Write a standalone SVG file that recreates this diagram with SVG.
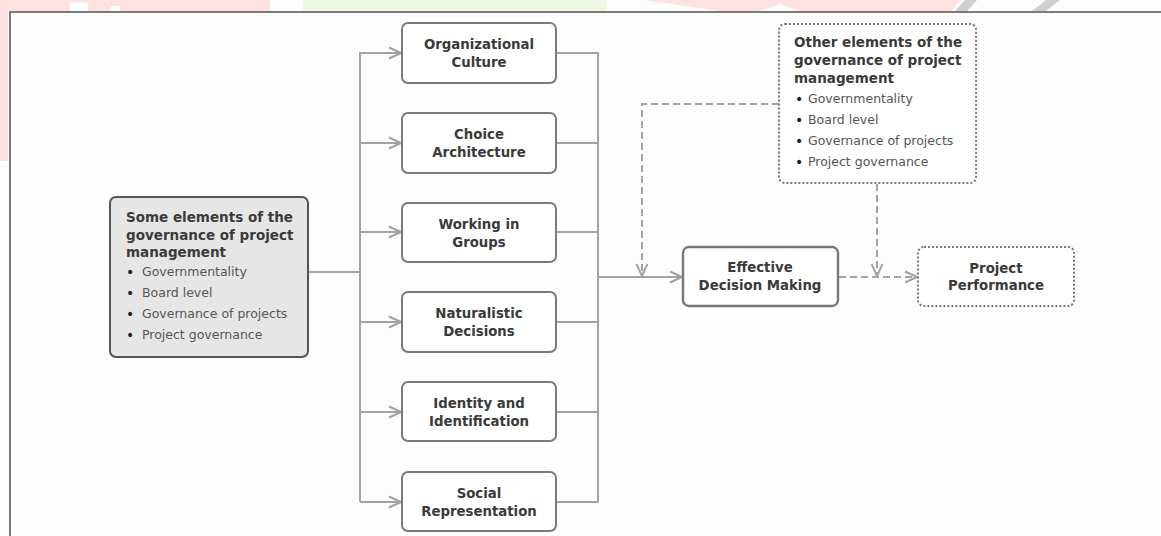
<svg xmlns="http://www.w3.org/2000/svg" width="1161" height="536" viewBox="0 0 1161 536">
<style>
.box{fill:#fff;stroke:#7a7a7a;stroke-width:2}
.main{fill:#e6e6e6;stroke:#555;stroke-width:2}
.dot{fill:#fff;stroke:#777;stroke-width:2;stroke-dasharray:2 2}
.edm{fill:#fff;stroke:#777;stroke-width:2.4}
.t{font-family:"DejaVu Sans","Liberation Sans",sans-serif;font-weight:bold;font-size:13.3px;fill:#3a3a3a;text-anchor:middle}
.h{font-family:"DejaVu Sans","Liberation Sans",sans-serif;font-weight:bold;font-size:13.5px;fill:#3a3a3a}
.b{font-family:"DejaVu Sans","Liberation Sans",sans-serif;font-size:12.5px;fill:#555}
.bu{font-family:"DejaVu Sans","Liberation Sans",sans-serif;font-size:14px;fill:#222}
.c{fill:none;stroke:#a3a3a3;stroke-width:2}
.d{fill:none;stroke:#a3a3a3;stroke-width:2;stroke-dasharray:7 4}
</style>
<defs>
<marker id="ah" viewBox="0 0 14 14" refX="13" refY="7" markerWidth="14" markerHeight="14" markerUnits="userSpaceOnUse" orient="auto">
<path d="M1 1.5 L13 7 L1 12.5" fill="none" stroke="#a3a3a3" stroke-width="2"/>
</marker>
</defs>
<rect width="1161" height="536" fill="#fdfdfd"/>
<g id="watermark">
<rect x="0" y="0" width="270" height="11" fill="#fde2df"/>
<rect x="70" y="2" width="18" height="9" fill="#fff"/>
<rect x="110" y="6" width="10" height="5" fill="#fff"/>
<rect x="303" y="0" width="304" height="11" fill="#eef9e4"/>
<polygon points="644,0 960,0 952,11 800,11 780,4 760,11 720,11" fill="#fde2df"/>
<polygon points="955,11 965,0 977,0 967,11" fill="#cfcfcf"/>
<polygon points="1032,11 1046,0 1060,0 1046,11" fill="#cfcfcf"/>
<rect x="0" y="11" width="8" height="150" fill="#fde2df"/>
</g>
<g id="frame">
<path d="M10 536 V12 H1161" fill="none" stroke="#7a7a7a" stroke-width="2"/>
</g>
<g id="connectors">
<path class="c" d="M308 272 H360"/>
<path class="c" d="M360 52 V502"/>
<path class="c" d="M360 53 H401" marker-end="url(#ah)"/>
<path class="c" d="M360 143 H401" marker-end="url(#ah)"/>
<path class="c" d="M360 232 H401" marker-end="url(#ah)"/>
<path class="c" d="M360 322 H401" marker-end="url(#ah)"/>
<path class="c" d="M360 412 H401" marker-end="url(#ah)"/>
<path class="c" d="M360 502 H401" marker-end="url(#ah)"/>
<path class="c" d="M556 53 H598 M556 143 H598 M556 232 H598 M556 322 H598 M556 412 H598 M556 502 H598"/>
<path class="c" d="M598 52 V503"/>
<path class="c" d="M598 277 H682" marker-end="url(#ah)"/>
<path class="d" d="M779 104 H642 V276" marker-end="url(#ah)"/>
<path class="d" d="M877 184 V276" marker-end="url(#ah)"/>
<path class="d" d="M839 277 H917" marker-end="url(#ah)"/>
</g>
<g id="node-main">
<rect class="main" x="110" y="197" width="198" height="160" rx="6"/>
<text class="h" x="126" y="222">Some elements of the</text>
<text class="h" x="126" y="240">governance of project</text>
<text class="h" x="126" y="257">management</text>
<g class="bu">
<text x="126" y="277">•</text><text x="126" y="298">•</text><text x="126" y="319">•</text><text x="126" y="340">•</text>
</g>
<g class="b">
<text x="142" y="276">Governmentality</text>
<text x="142" y="297">Board level</text>
<text x="142" y="318">Governance of projects</text>
<text x="142" y="339">Project governance</text>
</g>
</g>
<g id="node-culture">
<rect class="box" x="402" y="23" width="154" height="60" rx="6"/>
<text class="t" x="479" y="49">Organizational</text>
<text class="t" x="479" y="67">Culture</text>
</g>
<g id="node-choice">
<rect class="box" x="402" y="113" width="154" height="60" rx="6"/>
<text class="t" x="479" y="139">Choice</text>
<text class="t" x="479" y="157">Architecture</text>
</g>
<g id="node-groups">
<rect class="box" x="402" y="203" width="154" height="59" rx="6"/>
<text class="t" x="479" y="229">Working in</text>
<text class="t" x="479" y="247">Groups</text>
</g>
<g id="node-naturalistic">
<rect class="box" x="402" y="292" width="154" height="60" rx="6"/>
<text class="t" x="479" y="318">Naturalistic</text>
<text class="t" x="479" y="336">Decisions</text>
</g>
<g id="node-identity">
<rect class="box" x="402" y="382" width="154" height="59" rx="6"/>
<text class="t" x="479" y="408">Identity and</text>
<text class="t" x="479" y="426">Identification</text>
</g>
<g id="node-social">
<rect class="box" x="402" y="472" width="154" height="59" rx="6"/>
<text class="t" x="479" y="498">Social</text>
<text class="t" x="479" y="516">Representation</text>
</g>
<g id="node-edm">
<rect class="edm" x="683" y="247" width="155" height="59" rx="6"/>
<text class="t" x="760" y="272">Effective</text>
<text class="t" x="760" y="290">Decision Making</text>
</g>
<g id="node-other">
<rect class="dot" x="779" y="24" width="197" height="159" rx="6"/>
<text class="h" x="794" y="47">Other elements of the</text>
<text class="h" x="794" y="65">governance of project</text>
<text class="h" x="794" y="83">management</text>
<g class="bu">
<text x="795" y="104">•</text><text x="795" y="125">•</text><text x="795" y="146">•</text><text x="795" y="167">•</text>
</g>
<g class="b">
<text x="808" y="103">Governmentality</text>
<text x="808" y="124">Board level</text>
<text x="808" y="145">Governance of projects</text>
<text x="808" y="166">Project governance</text>
</g>
</g>
<g id="node-performance">
<rect class="dot" x="918" y="247" width="156" height="59" rx="6"/>
<text class="t" x="996" y="273">Project</text>
<text class="t" x="996" y="290">Performance</text>
</g>
</svg>
